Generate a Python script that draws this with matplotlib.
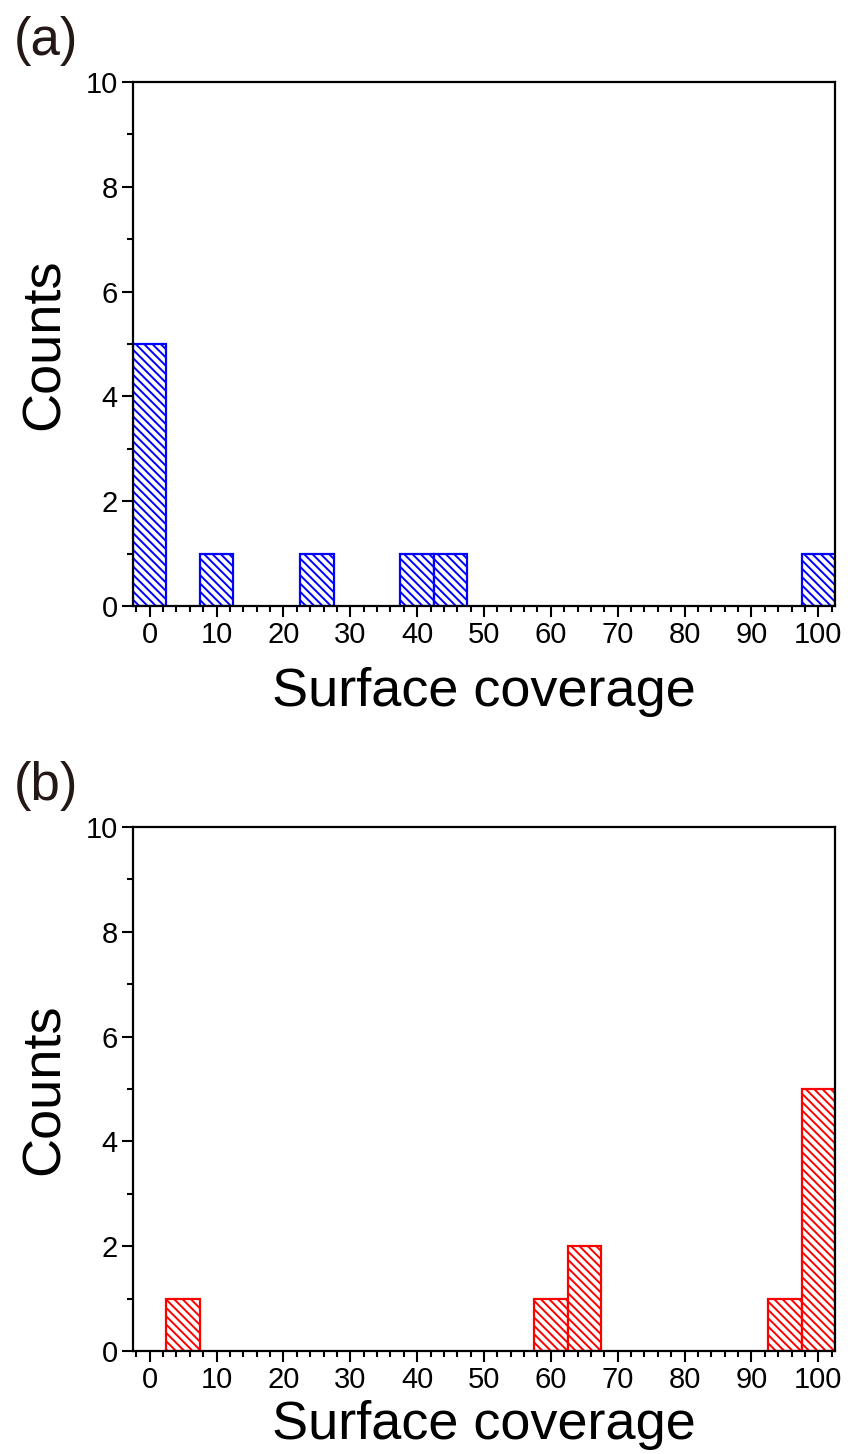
import matplotlib
matplotlib.use("Agg")
import matplotlib.pyplot as plt
from matplotlib.ticker import MultipleLocator

plt.rcParams['font.family'] = ['Liberation Sans', 'DejaVu Sans']
plt.rcParams['hatch.linewidth'] = 1.4

# Histogram bins (bin width 5) : centres and counts
bin_width = 5
centers_a = [0, 10, 25, 40, 45, 100]
counts_a = [5, 1, 1, 1, 1, 1]
centers_b = [5, 60, 65, 95, 100]
counts_b = [1, 1, 2, 1, 5]

panel_labels = ['(a)', '(b)']
xlabel = 'Surface coverage'
ylabel = 'Counts'
xticks = list(range(0, 101, 10))
yticks = [0, 2, 4, 6, 8, 10]

fig = plt.figure(figsize=(8.53, 14.54), dpi=100)

ax_left = 133 / 853
ax_width = (835 - 133) / 853
ax_height = 524 / 1454
axes = [
    fig.add_axes([ax_left, 1 - 606 / 1454, ax_width, ax_height]),
    fig.add_axes([ax_left, 1 - 1351 / 1454, ax_width, ax_height]),
]

series = [(centers_a, counts_a, 'blue'), (centers_b, counts_b, 'red')]
xlabel_pads = [13, 4]

for ax, (centers, counts, color), label, xpad in zip(axes, series, panel_labels, xlabel_pads):
    ax.bar(centers, counts, width=bin_width, align='center',
           facecolor='white', edgecolor=color, linewidth=1.6,
           hatch='\\\\\\\\', zorder=2)
    ax.set_xlim(-2.5, 102.5)
    ax.set_ylim(0, 10)
    ax.set_xticks(xticks)
    ax.set_yticks(yticks)
    ax.xaxis.set_minor_locator(MultipleLocator(2))
    ax.yaxis.set_minor_locator(MultipleLocator(1))
    ax.tick_params(which='both', direction='out', top=False, right=False,
                   width=1.5, labelsize=21, colors='black')
    ax.tick_params(which='major', length=8, pad=3)
    ax.tick_params(which='minor', length=4.5)
    for sp in ax.spines.values():
        sp.set_linewidth(1.6)
        sp.set_color('black')
    ax.set_xlabel(xlabel, fontsize=39, labelpad=xpad)
    ax.set_ylabel(ylabel, fontsize=39, labelpad=11)
    ax.text(-0.17, 1.03, label, transform=ax.transAxes, fontsize=38,
            color='#231815', ha='left', va='bottom')

fig.savefig('out.png', dpi=100)
